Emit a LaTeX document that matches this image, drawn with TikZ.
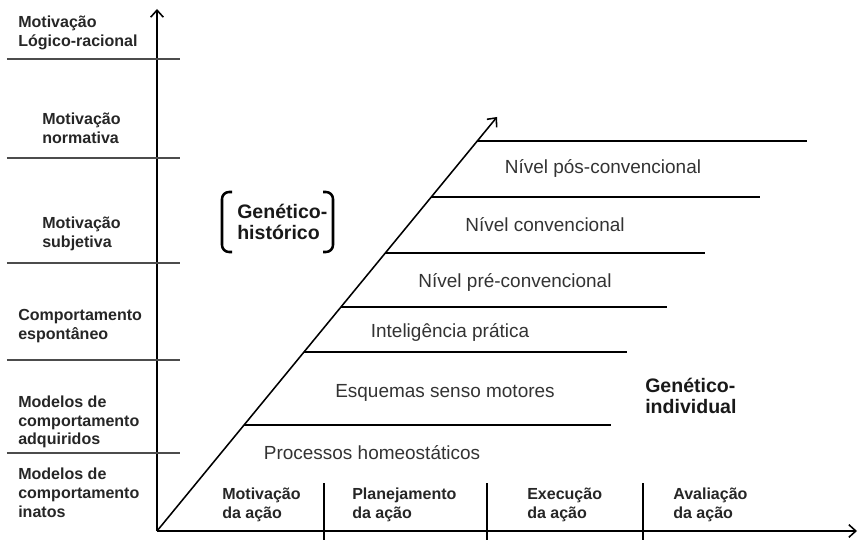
\documentclass[tikz,border=0pt]{standalone}
\usepackage{fontspec}
\setmainfont{Liberation Sans}
\usetikzlibrary{arrows.meta}

\begin{document}
\begin{tikzpicture}[
    axis/.style={line width=1.1pt, -{Straight Barb[length=5pt,width=9pt]}},
    lvl/.style={line width=1.1pt},
    sep/.style={line width=1.1pt, black!70},
    lab/.style={anchor=west, inner sep=0pt, align=left, text=black!85,
      font=\fontsize{11.4}{13.4}\selectfont\bfseries},
    stage/.style={inner sep=0pt, text=black!80, font=\fontsize{13.5}{16}\selectfont},
    big/.style={anchor=west, inner sep=0pt, align=left, text=black!90,
      font=\fontsize{13.9}{15.2}\selectfont\bfseries},
    brk/.style={line width=1.8pt, rounded corners=5pt}
  ]
  \useasboundingbox (-3.925,-0.225) rectangle (17.575,13.275);

  \draw[axis] (0,0) -- (0,13.05);
  \draw[axis] (0,0) -- (17.5,0);
  \draw[axis] (0,0) -- (8.5,10.35);

  \foreach \y in {11.8, 9.325, 6.7, 4.275, 1.95}
    \draw[sep] (-3.75,\y) -- (0.575,\y);

  \foreach \y/\r in {9.75/16.25, 8.35/15.075, 6.95/13.7, 5.6/12.75, 4.475/11.75, 2.65/11.35}
    \draw[lvl] ({0.8213*\y},\y) -- (\r,\y);

  \foreach \x in {4.175, 8.25, 12.15}
    \draw[lvl] (\x,1.2) -- (\x,-0.225);

  \node[lab] (logico) at (-3.475,12.45) {Motivação\\Lógico-racional};
  \node[lab] (normativa) at (-2.875,10.075) {Motivação\\normativa};
  \node[lab] (subjetiva) at (-2.875,7.425) {Motivação\\subjetiva};
  \node[lab] (espontaneo) at (-3.475,5.125) {Comportamento\\espontâneo};
  \node[lab] (adquiridos) at (-3.475,2.725) {Modelos de\\comportamento\\adquiridos};
  \node[lab] (inatos) at (-3.475,0.95) {Modelos de\\comportamento\\inatos};

  \node[lab] (motivacao) at (1.625,0.65) {Motivação\\da ação};
  \node[lab] (planejamento) at (4.875,0.65) {Planejamento\\da ação};
  \node[lab] (execucao) at (9.25,0.65) {Execução\\da ação};
  \node[lab] (avaliacao) at (12.9,0.65) {Avaliação\\da ação};

  \node[stage] (pos) at (11.15,9.075) {Nível pós-convencional};
  \node[stage] (conv) at (9.7,7.65) {Nível convencional};
  \node[stage] (pre) at (8.95,6.225) {Nível pré-convencional};
  \node[stage] (intel) at (7.325,4.975) {Inteligência prática};
  \node[stage] (esquemas) at (7.2,3.45) {Esquemas senso motores};
  \node[stage] (homeo) at (5.375,1.95) {Processos homeostáticos};

  \node[big] (historico) at (2.0,7.725) {Genético-\\histórico};
  \draw[brk] (1.875,8.475) -- (1.625,8.475) -- (1.625,6.975) -- (1.875,6.975);
  \draw[brk] (4.15,8.475) -- (4.4,8.475) -- (4.4,6.975) -- (4.15,6.975);

  \node[big] (individual) at (12.2,3.375) {Genético-\\individual};
\end{tikzpicture}
\end{document}
